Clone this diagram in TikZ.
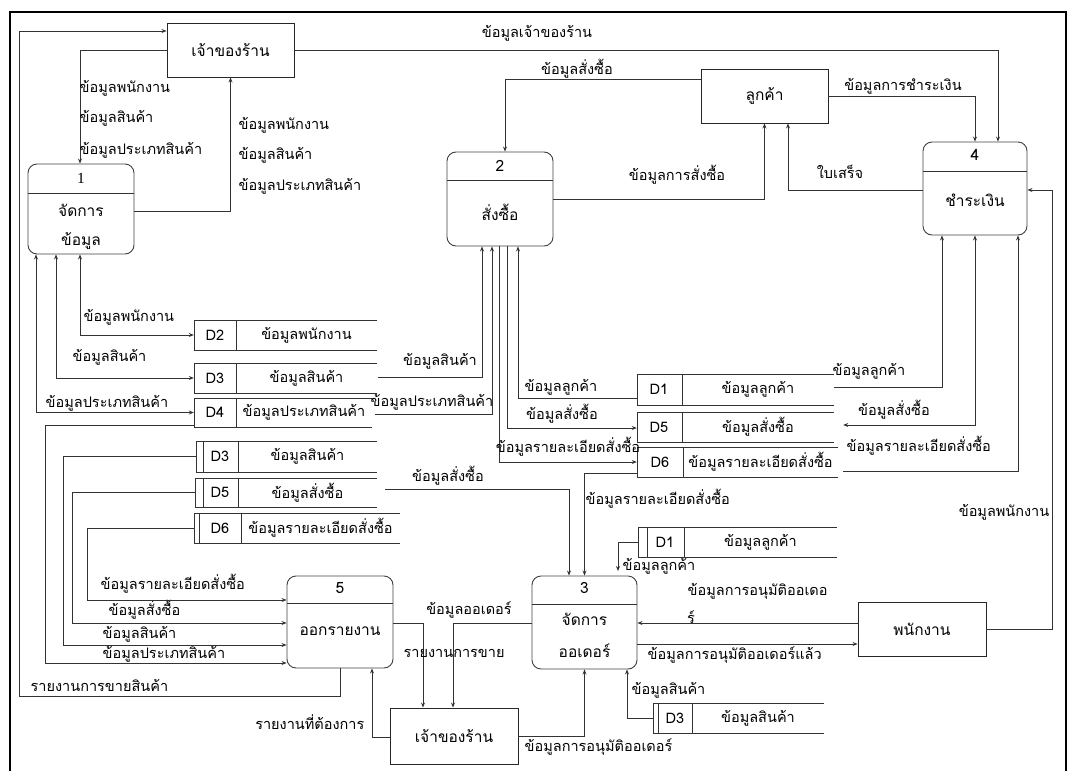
\documentclass[tikz,border=0pt]{standalone}
\usepackage{fontspec}
\setmainfont{Loma}[Script=Thai]
\newfontfamily\serifnum{Liberation Serif}
\usetikzlibrary{arrows.meta,calc}
\tikzset{
  every node/.style={font=\fontsize{14.5}{17}\selectfont, inner sep=0.5pt},
  big/.style={font=\fontsize{15.5}{18}\selectfont},
  ln/.style={line width=0.8pt, draw=black!80},
  frame/.style={line width=1.4pt, draw=black},
  ent/.style={draw=black!85, line width=0.9pt, minimum width=127pt, minimum height=54pt, inner sep=0, big},
  proc/.style={draw=black!75, line width=0.9pt, rounded corners=9pt, minimum width=106pt, minimum height=92pt, inner sep=0},
  arr/.style={ln, -{Stealth[length=5pt,width=4pt]}},
  darr/.style={ln, {Stealth[length=5pt,width=4pt]}-{Stealth[length=5pt,width=4pt]}},
  lw/.style={anchor=west},
  le/.style={anchor=east},
}
\newcommand\dstore[9]{%
  \node[inner sep=0, minimum width={(#4)-(#2)}, minimum height={(#5)-(#3)}] (#1) at ({((#2)+(#4))/2},{((#3)+(#5))/2}) {};
  \draw[ln] (#4,#3) -- (#2,#3) -- (#2,#5) -- (#4,#5) (#6,#3) -- (#6,#5);
  \node (#1id) at (#9,{((#3)+(#5))/2}) {#7};
  \node (#1t) at ({((#6)+(#4))/2},{((#3)+(#5))/2}) {#8};
}
\begin{document}
\begin{tikzpicture}[x=1pt,y=-1pt]
\useasboundingbox (0,0) rectangle (1072,771);
\draw[frame] (10,771) -- (10,12) -- (1066,12) -- (1066,771);

% ---------- entities
\node[ent] (e1) at (230.5,50) {เจ้าของร้าน};
\node[ent] (e2) at (764.5,96) {ลูกค้า};
\node[ent,minimum width=128pt] (e3) at (922,629) {พนักงาน};
\node[ent,minimum width=128pt,minimum height=56pt] (e4) at (454,736) {เจ้าของร้าน};

% ---------- processes
\node[proc,minimum height=90pt] (p1) at (81,209) {};
\draw[ln] (p1.west|-0,193) -- (p1.east|-0,193);
\node[big] (p1n) at (81,178) {\serifnum 1};
\node[big] (p1a) at (81,210) {จัดการ};
\node[big] (p1b) at (81,241) {ข้อมูล};

\node[proc,minimum height=94pt] (p2) at (500,199) {};
\draw[ln] (p2.west|-0,180) -- (p2.east|-0,180);
\node[big] (p2n) at (500,166) {2};
\node[big] (p2a) at (500,212) {สั่งซื้อ};

\node[proc,minimum width=104pt,minimum height=93pt] (p4) at (975,188.5) {};
\draw[ln] (p4.west|-0,171) -- (p4.east|-0,171);
\node[big] (p4n) at (975,155) {4};
\node[big] (p4a) at (975,200) {ชำระเงิน};

\node[proc,minimum width=105pt,minimum height=93pt] (p3) at (584.5,622.5) {};
\draw[ln] (p3.west|-0,604) -- (p3.east|-0,604);
\node[big] (p3n) at (584.5,588) {3};
\node[big] (p3a) at (584.5,619) {จัดการ};
\node[big] (p3b) at (584.5,651) {ออเดอร์};

\node[proc] (p5) at (340,622) {};
\draw[ln] (p5.west|-0,603) -- (p5.east|-0,603);
\node[big] (p5n) at (340,588) {5};
\node[big] (p5a) at (340,631) {ออกรายงาน};

% ---------- data stores
\dstore{d2}{194}{320}{377}{350}{236}{D2}{ข้อมูลพนักงาน}{215}
\dstore{d3a}{194}{363}{377}{393}{236}{D3}{ข้อมูลสินค้า}{215}
\dstore{d4}{194}{398}{372}{427}{236}{D4}{ข้อมูลประเภทสินค้า}{215}
\dstore{d3b}{196}{441}{377}{472}{238}{D3}{ข้อมูลสินค้า}{220}
\draw[ln] (203,441) -- (203,472);
\dstore{d5b}{195}{478}{377}{507}{238}{D5}{ข้อมูลสั่งซื้อ}{220}
\draw[ln] (203,478) -- (203,507);
\dstore{d6b}{194}{513}{400}{543}{241}{D6}{ข้อมูลรายละเอียดสั่งซื้อ}{220}
\draw[ln] (199,513) -- (199,543);
\dstore{d1a}{637}{374}{834}{405}{682}{D1}{ข้อมูลลูกค้า}{659}
\dstore{d5a}{637}{412}{834}{442}{682}{D5}{ข้อมูลสั่งซื้อ}{659}
\dstore{d6a}{637}{447}{838}{477}{683}{D6}{ข้อมูลรายละเอียดสั่งซื้อ}{660}
\dstore{d1b}{638}{527}{837}{557}{684}{D1}{ข้อมูลลูกค้า}{665}
\draw[ln] (647,527) -- (647,557);
\dstore{d3c}{653}{703}{824}{733}{692}{D3}{ข้อมูลสินค้า}{675}
\draw[ln] (658,703) -- (658,733);

% ---------- top area connectors
\draw[arr] (e1.west) -| ([xshift=-1pt]p1.north);
\node[lw] (l1a) at (79,88) {ข้อมูลพนักงาน};
\node[lw] (l1b) at (79,118) {ข้อมูลสินค้า};
\node[lw] (l1c) at (79,150) {ข้อมูลประเภทสินค้า};

\draw[arr] (p1.east|-0,211) -| (e1.south);
\node[lw] (l2a) at (238,125) {ข้อมูลพนักงาน};
\node[lw] (l2b) at (238,155) {ข้อมูลสินค้า};
\node[lw] (l2c) at (238,186) {ข้อมูลประเภทสินค้า};

\draw[arr] (e1.east) -| ([xshift=23pt]p4.north);
\node (l3) at (537,33) {ข้อมูลเจ้าของร้าน};

\draw[arr] (e2.west|-0,79) -| ([xshift=5pt]p2.north);
\node (l4) at (577,69) {ข้อมูลสั่งซื้อ};

\draw[arr] (p2.east) -| (e2.south);
\node (l5) at (677,175) {ข้อมูลการสั่งซื้อ};

\draw[arr] (e2.east) -| (p4.north);
\node (l6) at (903,86) {ข้อมูลการชำระเงิน};

\draw[arr] (p4.west|-0,190) -| ([xshift=23.5pt]e2.south);
\node (l7) at (840,172) {ใบเสร็จ};

\coordinate (c8) at (1052,190);
\draw[arr] (e3.east) -| (c8) -- (p4.east|-c8);
\node[le] (l8) at (1050,512) {ข้อมูลพนักงาน};

% ---------- process 4 <-> stores
\draw[arr] (d1a.east|-0,387) -| ([xshift=-33pt]p4.south);
\node[lw] (l9) at (832,371) {ข้อมูลลูกค้า};
\draw[darr] (p4.south) |- ([xshift=9pt]d5a.east|-0,425);
\node (l10) at (894,410) {ข้อมูลสั่งซื้อ};
\draw[arr] ([xshift=5pt]d6a.east|-0,471) -| ([xshift=43pt]p4.south);
\node[lw] (l11) at (846,446) {ข้อมูลรายละเอียดสั่งซื้อ};

% ---------- process 1 <-> stores
\draw[darr] ([xshift=-1pt]p1.south) |- (d2.west);
\node[lw] (l12) at (83,317) {ข้อมูลพนักงาน};
\draw[darr] ([xshift=-25pt]p1.south) |- (d3a.west);
\node[lw] (l13) at (72,357) {ข้อมูลสินค้า};
\draw[darr] ([xshift=-45pt]p1.south) |- (d4.west);
\node[lw] (l14) at (45,403) {ข้อมูลประเภทสินค้า};

% ---------- process 2 <-> stores
\draw[arr] ([xshift=1pt]d3a.east|-0,377) -| ([xshift=-18pt]p2.south);
\node (l15) at (440,361) {ข้อมูลสินค้า};
\draw[arr] ([xshift=3pt]d4.east|-0,414) -| ([xshift=-8pt]p2.south);
\node (l16) at (432,402) {ข้อมูลประเภทสินค้า};
\draw[arr] (d1a.west|-0,398) -| ([xshift=18pt]p2.south);
\node (l17) at (561,387) {ข้อมูลลูกค้า};
\draw[arr] ([xshift=7pt]p2.south) |- (d5a.west|-0,428);
\node (l18) at (562,414) {ข้อมูลสั่งซื้อ};
\draw[arr] ([xshift=-1pt]p2.south) |- (d6a.west|-0,462);
\node (l19) at (568,447) {ข้อมูลรายละเอียดสั่งซื้อ};

% ---------- process 5 inputs
\draw[arr] (d4.west|-0,425) -| (45,663) -- (p5.west|-0,663);
\node[lw] (l20) at (102,654) {ข้อมูลประเภทสินค้า};
\draw[arr] (d3b.west) -| (63,645) -- (p5.west|-0,645);
\node[lw] (l21) at (102,634) {ข้อมูลสินค้า};
\draw[arr] (d5b.west) -| (72,623) -- (p5.west|-0,623);
\node[lw] (l22) at (108,610) {ข้อมูลสั่งซื้อ};
\draw[arr] (d6b.west) -| (87,600) -- (p5.west|-0,600);
\node[lw] (l23) at (100,584) {ข้อมูลรายละเอียดสั่งซื้อ};

\draw[arr] (p5.south) |- (19,696) |- (e1.west|-0,31);
\node[lw] (l24) at (30,685) {รายงานการขายสินค้า};

% ---------- bottom area
\draw[arr] (p5.east|-0,623) -| (423,0|-e4.north);
\node[lw] (l25) at (403,653) {รายงานการขาย};
\draw[arr] (p3.west|-0,623) -| (453,0|-e4.north);
\node (l26) at (469,610) {ข้อมูลออเดอร์};
\draw[arr] (e4.west|-0,737) -| (372,0|-p5.south);
\node[le] (l27) at (365,722) {รายงานที่ต้องการ};
\draw[arr] (e4.east) -| (p3.south);
\node[lw] (l28) at (524,747) {ข้อมูลการอนุมัติออเดอร์};

\draw[arr] ([xshift=8pt]d5b.east|-0,489) -| ([xshift=-15.5pt]p3.north);
\node (l29) at (448,476) {ข้อมูลสั่งซื้อ};
\draw[arr] (d6a.west|-0,473) -| (p3.north);
\node[lw] (l30) at (585,499) {ข้อมูลรายละเอียดสั่งซื้อ};
\draw[arr] (d1b.west) -| (618,571);
\node[lw] (l31) at (622,566) {ข้อมูลลูกค้า};
\draw[arr] (d3c.west) -| (627,0|-p3.south);
\node[lw] (l32) at (631,690) {ข้อมูลสินค้า};

\draw[arr] (e3.west|-0,623) -- (p3.east|-0,623);
\node[lw] (l33) at (687,591) {ข้อมูลการอนุมัติออเดอ};
\node (l33b) at (691,617) {ร์};
\draw[arr] (p3.east|-0,644) -- (e3.west|-0,644);
\node[lw] (l34) at (647,655) {ข้อมูลการอนุมัติออเดอร์แล้ว};
\end{tikzpicture}
\end{document}
